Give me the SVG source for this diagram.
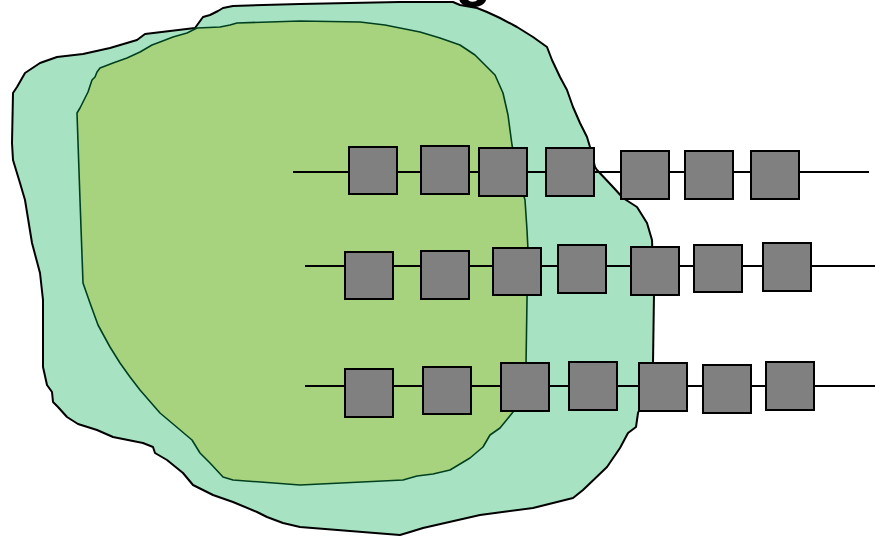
<svg xmlns="http://www.w3.org/2000/svg" width="875" height="538" viewBox="0 0 875 538">
<style>
.outer{fill:#a7e3c3;stroke:#000;stroke-width:2;stroke-linejoin:round}
.inner{fill:#a8d37e;stroke:#00401f;stroke-width:1.6;stroke-linejoin:round}
.wire{stroke:#000;stroke-width:2;fill:none}
.box{fill:#808080;stroke:#000;stroke-width:2}
.title{font-family:"Liberation Sans",Arial,sans-serif;font-weight:bold;font-size:60px;fill:#000}
</style>
<text class="title" x="455" y="-5">g</text>
<g id="outer-region">
<path class="outer" d="M400,2 L453,2 L460,5 L477,8 L487,12 L500,18 L517,27 L533,37 L547,47 L552,60 L560,77 L567,90 L573,107 L580,123 L587,137 L590,147 L595,167 L597,170 L613,187 L623,198 L637,207 L647,223 L652,240 L654,293 L653,363 L648,385 L642,403 L638,413 L636,427 L628,433 L620,448 L607,467 L583,490 L573,498 L553,503 L533,508 L480,515 L423,528 L410,532 L400,535 L300,527 L283,523 L267,517 L257,512 L233,502 L213,495 L203,490 L193,485 L183,473 L167,460 L155,453 L153,447 L143,443 L123,439 L113,437 L97,430 L78,424 L67,417 L58,407 L53,402 L52,392 L47,385 L43,367 L43,300 L40,273 L32,243 L25,200 L20,183 L13,160 L12,143 L13,93 L17,87 L25,73 L40,63 L57,57 L83,54 L110,48 L137,40 L145,34 L195,28 L203,17 L210,15 L218,11 L223,8 L233,6 L300,4 Z"/>
</g>
<g id="inner-region">
<path class="inner" d="M300,21 L360,22 L385,25 L400,28 L420,32 L440,38 L460,45 L475,55 L485,65 L495,75 L503,93 L508,115 L512,145 L518,175 L525,200 L527,230 L528,250 L527,300 L526,365 L520,400 L513,412 L500,428 L490,435 L483,447 L470,458 L450,470 L433,474 L417,476 L403,480 L300,485 L233,480 L223,477 L210,463 L200,453 L192,440 L160,413 L140,390 L130,377 L120,363 L110,347 L98,325 L90,303 L83,283 L80,200 L77,113 L80,108 L83,102 L88,92 L92,80 L95,77 L97,72 L100,68 L113,63 L127,58 L140,52 L152,45 L160,42 L173,37 L187,33 L197,28 L220,27 L230,25 L237,23 Z"/>
</g>
<g id="connectors">
<line class="wire" x1="293" y1="172" x2="869" y2="172"/>
<line class="wire" x1="305" y1="266" x2="875" y2="266"/>
<line class="wire" x1="305" y1="386" x2="875" y2="386"/>
</g>
<g id="row1">
<g id="r1n1"><rect class="box" x="349" y="147" width="48" height="47"/></g>
<g id="r1n2"><rect class="box" x="421" y="146" width="48" height="48"/></g>
<g id="r1n3"><rect class="box" x="479" y="148" width="48" height="48"/></g>
<g id="r1n4"><rect class="box" x="546" y="148" width="48" height="48"/></g>
<g id="r1n5"><rect class="box" x="621" y="151" width="48" height="48"/></g>
<g id="r1n6"><rect class="box" x="685" y="151" width="48" height="48"/></g>
<g id="r1n7"><rect class="box" x="751" y="151" width="48" height="48"/></g>
</g>
<g id="row2">
<g id="r2n1"><rect class="box" x="345" y="252" width="48" height="47"/></g>
<g id="r2n2"><rect class="box" x="421" y="251" width="48" height="48"/></g>
<g id="r2n3"><rect class="box" x="493" y="248" width="48" height="47"/></g>
<g id="r2n4"><rect class="box" x="558" y="245" width="48" height="48"/></g>
<g id="r2n5"><rect class="box" x="631" y="247" width="48" height="48"/></g>
<g id="r2n6"><rect class="box" x="694" y="245" width="48" height="47"/></g>
<g id="r2n7"><rect class="box" x="763" y="243" width="48" height="48"/></g>
</g>
<g id="row3">
<g id="r3n1"><rect class="box" x="345" y="369" width="48" height="48"/></g>
<g id="r3n2"><rect class="box" x="423" y="367" width="48" height="47"/></g>
<g id="r3n3"><rect class="box" x="501" y="363" width="48" height="48"/></g>
<g id="r3n4"><rect class="box" x="569" y="362" width="48" height="48"/></g>
<g id="r3n5"><rect class="box" x="639" y="363" width="48" height="48"/></g>
<g id="r3n6"><rect class="box" x="703" y="365" width="48" height="48"/></g>
<g id="r3n7"><rect class="box" x="766" y="362" width="48" height="48"/></g>
</g>
</svg>
